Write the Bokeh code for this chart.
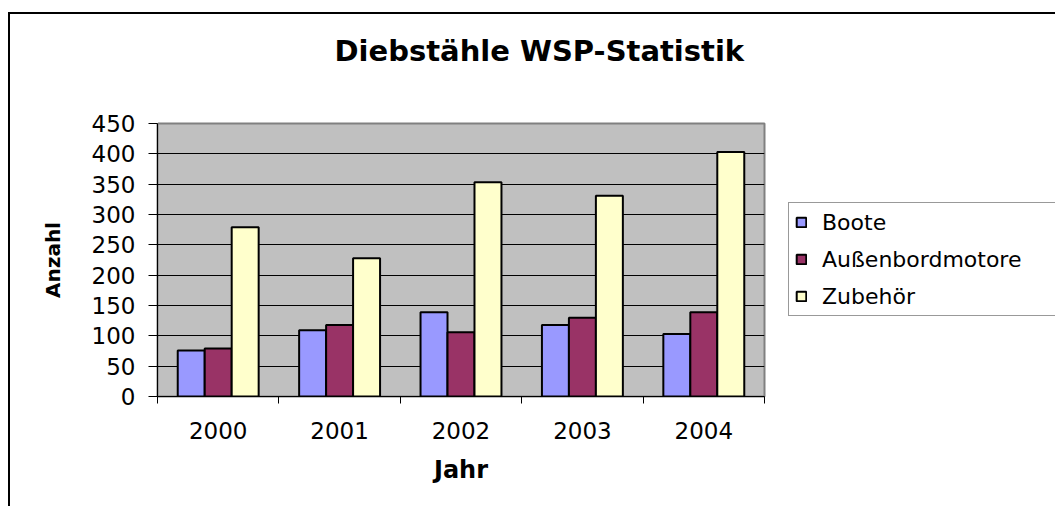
from bokeh.plotting import figure
from bokeh.layouts import column
from bokeh.models import (ColumnDataSource, Range1d, FixedTicker, SingleIntervalTicker,
                          LinearAxis, Title)
from bokeh.transform import dodge
from bokeh.embed import file_html
from bokeh.resources import INLINE

# ---- data ----
years = ["2000", "2001", "2002", "2003", "2004"]
boote = [76, 109, 139, 118, 103]
aussenbordmotore = [79, 118, 106, 130, 139]
zubehoer = [279, 228, 353, 331, 403]
series_names = ["Boote", "Außenbordmotore", "Zubehör"]
series_colors = ["#9999FF", "#993366", "#FFFFCC"]
title_text = "Diebstähle WSP-Statistik"

pos = list(range(len(years)))
src = ColumnDataSource(dict(x=pos, b=boote, a=aussenbordmotore, z=zubehoer))

FONT = "DejaVu Sans"

p = figure(output_backend="svg", toolbar_location=None,
           frame_width=607, frame_height=273,
           min_border_left=147, min_border_right=291,
           min_border_top=109, min_border_bottom=110,
           x_range=Range1d(-0.5, len(years) - 0.5), y_range=Range1d(0, 450),
           background_fill_color="#C0C0C0", border_fill_color="white")
p.title.visible = False
p.outline_line_color = "#808080"
p.outline_line_width = 2

xax = p.below[0]
yax = p.left[0]

# invisible spacer axis just above the plot area: lifts the title to its place
spacer = LinearAxis(ticker=FixedTicker(ticks=[-0.5]), axis_line_color=None,
                    major_tick_line_color="white", minor_tick_line_color=None,
                    major_tick_in=0, major_tick_out=51, minor_tick_in=0, minor_tick_out=0,
                    major_label_standoff=0, major_label_text_font_size="1px",
                    major_label_text_color=None, axis_label_standoff=0)
p.add_layout(spacer, "above")

# chart title, outside the spacer
p.add_layout(Title(text=title_text, text_font=FONT, text_font_style="bold",
                   text_font_size="29px", text_color="black", align="left",
                   offset=177, vertical_align="bottom", standoff=10), "above")

w = 1.0 / 4.5
for col, off, name, color in zip(["b", "a", "z"], [-w, 0, w], series_names, series_colors):
    p.vbar(x=dodge("x", off, range=p.x_range), top=col, width=w, source=src,
           fill_color=color, line_color="black", line_width=2, legend_label=name)

# y axis
yax.ticker = SingleIntervalTicker(interval=50, num_minor_ticks=0)
yax.major_tick_in = 0
yax.major_tick_out = 9
yax.major_tick_line_color = "black"
yax.axis_line_color = "black"
yax.major_label_standoff = 13
yax.major_label_text_font = FONT
yax.major_label_text_font_size = "23px"
yax.major_label_text_color = "black"
yax.axis_label = "Anzahl"
yax.axis_label_text_font = FONT
yax.axis_label_text_font_style = "bold"
yax.axis_label_text_font_size = "20px"
yax.axis_label_text_color = "black"
yax.axis_label_standoff = 24

# x axis: labels at category centers, ticks at category boundaries
xax.ticker = FixedTicker(ticks=pos, minor_ticks=[i - 0.5 for i in range(len(years) + 1)])
xax.major_label_overrides = {i: y for i, y in zip(pos, years)}
xax.major_tick_line_color = None
xax.major_tick_in = 0
xax.major_tick_out = 0
xax.minor_tick_in = 0
xax.minor_tick_out = 7
xax.minor_tick_line_color = "black"
xax.axis_line_color = "black"
xax.major_label_standoff = 18
xax.major_label_text_font = FONT
xax.major_label_text_font_size = "23px"
xax.major_label_text_color = "black"
xax.axis_label = "Jahr"
xax.axis_label_text_font = FONT
xax.axis_label_text_font_style = "bold"
xax.axis_label_text_font_size = "24px"
xax.axis_label_text_color = "black"
xax.axis_label_standoff = 14

p.xgrid.grid_line_color = None
p.ygrid.grid_line_color = "black"
p.ygrid.grid_line_width = 1
p.ygrid.ticker = yax.ticker

# legend, moved to the right side panel
lg = p.legend[0]
p.center.remove(lg)
p.add_layout(lg, "right")
lg.location = (24, 80)
lg.orientation = "vertical"
lg.border_line_color = "#333333"
lg.border_line_width = 1
lg.background_fill_color = "white"
lg.background_fill_alpha = 1
lg.label_text_font = FONT
lg.label_text_font_size = "22px"
lg.label_text_color = "black"
lg.glyph_width = 12
lg.glyph_height = 12
lg.label_standoff = 15
lg.label_height = 26
lg.label_width = 229
lg.spacing = 11
lg.padding = 6
lg.margin = 0

# outer chart area frame (right and bottom edges lie outside the picture)
layout = column(p, margin=(12, 0, 0, 8),
                styles={"border-left": "2px solid black", "border-top": "2px solid black"})

open("out.html", "w").write(file_html(layout, INLINE))
